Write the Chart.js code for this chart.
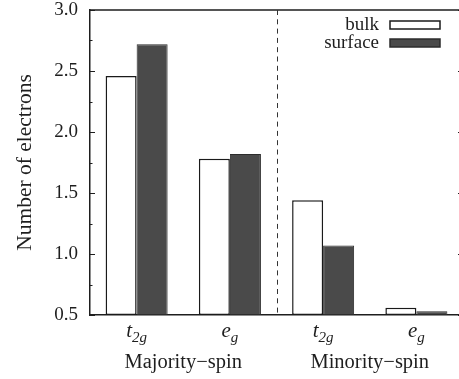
<!DOCTYPE html>
<html>
<head>
<meta charset="utf-8">
<script src="https://cdn.jsdelivr.net/npm/chart.js@4/dist/chart.umd.min.js"></script>
<style>
  html, body { margin: 0; padding: 0; background: #fff; overflow: hidden; }
  #wrap { width: 464px; height: 379px; }
</style>
</head>
<body>
<div id="wrap"><canvas id="c" width="464" height="379"></canvas></div>
<script>
// Orbital occupations (electrons) per spin channel
const orbitalBase = ['t', 'e', 't', 'e'];
const orbitalSub = ['2g', 'g', '2g', 'g'];
const categories = ['t2g', 'eg', 't2g', 'eg'];
const spinGroups = ['Majority\u2212spin', 'Minority\u2212spin'];
const bulkValues = [2.46, 1.78, 1.44, 0.56];
const surfaceValues = [2.72, 1.82, 1.07, 0.53];
const yTicks = [0.5, 1.0, 1.5, 2.0, 2.5, 3.0];
const yMinorTicks = [0.75, 1.25, 1.75, 2.25, 2.75];

const SERIF = "'Liberation Serif', 'DejaVu Serif', serif";
const INK = '#1e1e1e';

const framePlugin = {
  id: 'frame',
  afterDraw(chart) {
    const { ctx, chartArea: a, scales } = chart;
    const y = scales.y, x = scales.x;
    ctx.save();
    // top and right frame lines
    ctx.strokeStyle = INK;
    ctx.lineWidth = 1.5;
    ctx.beginPath();
    ctx.moveTo(a.left, a.top);
    ctx.lineTo(a.right, a.top);
    ctx.lineTo(a.right, a.bottom);
    ctx.stroke();
    // inward tick marks on both vertical sides
    ctx.lineWidth = 1;
    ctx.beginPath();
    yTicks.forEach(v => {
      const py = Math.round(y.getPixelForValue(v)) + 0.5;
      ctx.moveTo(a.left, py); ctx.lineTo(a.left + 5, py);
      ctx.moveTo(a.right, py); ctx.lineTo(a.right - 5, py);
    });
    yMinorTicks.forEach(v => {
      const py = Math.round(y.getPixelForValue(v)) + 0.5;
      ctx.moveTo(a.left, py); ctx.lineTo(a.left + 2.5, py);
      ctx.moveTo(a.right, py); ctx.lineTo(a.right - 2.5, py);
    });
    ctx.stroke();
    // dashed separator between the spin channels
    const xs = (x.getPixelForValue(1) + x.getPixelForValue(2)) / 2;
    ctx.strokeStyle = '#333';
    ctx.lineWidth = 1;
    ctx.setLineDash([5, 4.3]);
    ctx.beginPath();
    ctx.moveTo(Math.round(xs) + 0.5, a.top);
    ctx.lineTo(Math.round(xs) + 0.5, a.bottom);
    ctx.stroke();
    ctx.setLineDash([]);

    // orbital labels with subscripts
    ctx.fillStyle = INK;
    ctx.textBaseline = 'alphabetic';
    categories.forEach((c, i) => {
      const cx = x.getPixelForValue(i);
      ctx.font = 'italic 21px ' + SERIF;
      const wb = ctx.measureText(orbitalBase[i]).width;
      ctx.font = 'italic 15px ' + SERIF;
      const ws = ctx.measureText(orbitalSub[i]).width;
      const x0 = cx - (wb + ws) / 2;
      ctx.textAlign = 'left';
      ctx.font = 'italic 21px ' + SERIF;
      ctx.fillText(orbitalBase[i], x0, a.bottom + 22);
      ctx.font = 'italic 15px ' + SERIF;
      ctx.fillText(orbitalSub[i], x0 + wb, a.bottom + 27);
    });
    // spin channel labels
    ctx.font = '20.5px ' + SERIF;
    ctx.textAlign = 'center';
    spinGroups.forEach((g, k) => {
      const gx = (x.getPixelForValue(2 * k) + x.getPixelForValue(2 * k + 1)) / 2;
      ctx.fillText(g, gx, a.bottom + 53);
    });

    // legend: label on the left, swatch on the right
    const ds = chart.data.datasets;
    const rows = [25, 43];
    ds.forEach((d, i) => {
      const cy = rows[i];
      ctx.fillStyle = INK;
      ctx.font = '19px ' + SERIF;
      ctx.textAlign = 'right';
      ctx.textBaseline = 'middle';
      ctx.fillText(d.label, 379, cy);
      ctx.fillStyle = d.backgroundColor;
      ctx.fillRect(390, cy - 4, 50, 8);
      ctx.strokeStyle = d.borderColor;
      ctx.lineWidth = 1.5;
      ctx.strokeRect(390, cy - 4, 50, 8);
    });
    ctx.restore();
  }
};

new Chart(document.getElementById('c'), {
  type: 'bar',
  data: {
    labels: categories,
    datasets: [
      {
        label: 'bulk',
        data: bulkValues,
        backgroundColor: '#ffffff',
        borderColor: '#1a1a1a',
        borderWidth: 1.5,
        borderSkipped: false,
        base: 0.5
      },
      {
        label: 'surface',
        data: surfaceValues,
        backgroundColor: '#4a4a4a',
        borderColor: '#2c2c2c',
        borderWidth: 1,
        borderSkipped: false,
        base: 0.5
      }
    ]
  },
  options: {
    responsive: false,
    animation: false,
    devicePixelRatio: 1,
    layout: { padding: { top: 10, right: 1, left: 0, bottom: 0 } },
    datasets: { bar: { categoryPercentage: 0.665, barPercentage: 1.0 } },
    plugins: { legend: { display: false }, tooltip: { enabled: false } },
    scales: {
      x: {
        type: 'category',
        grid: { display: false, drawTicks: false },
        border: { display: true, color: INK, width: 1.5 },
        ticks: { display: false },
        afterFit(scale) {
          scale.height = 64;
          scale.paddingLeft = 0;
          scale.paddingRight = 0;
        }
      },
      y: {
        min: 0.5,
        max: 3.0,
        grid: { display: false, drawTicks: false },
        border: { display: true, color: INK, width: 1.5 },
        afterBuildTicks(scale) {
          scale.ticks = yTicks.map(v => ({ value: v }));
        },
        ticks: {
          padding: 12,
          color: INK,
          font: { family: SERIF, size: 19 },
          callback: v => Number(v).toFixed(1)
        },
        title: {
          display: true,
          text: 'Number of electrons',
          color: INK,
          font: { family: SERIF, size: 21.5 },
          padding: { top: 12, bottom: 0 }
        },
        afterFit(scale) {
          scale.width = 90;
          scale.paddingTop = 0;
          scale.paddingBottom = 0;
        }
      }
    }
  },
  plugins: [framePlugin]
});
</script>
</body>
</html>
